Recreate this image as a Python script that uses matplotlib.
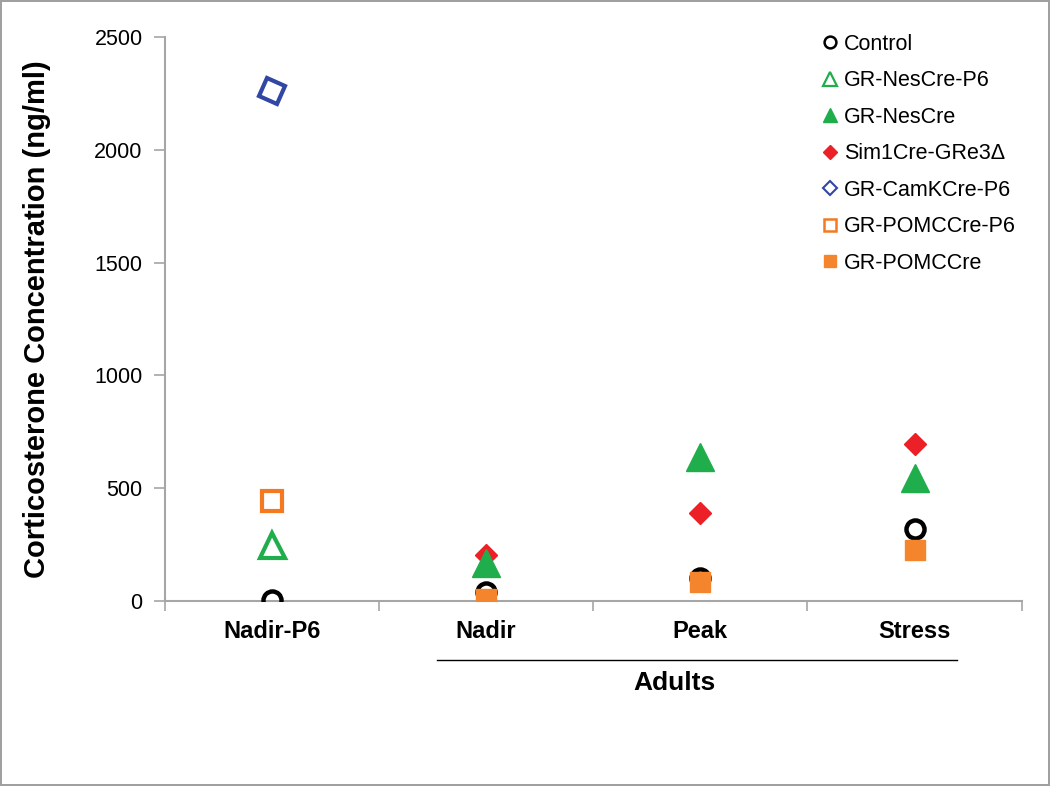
import numpy as np
import matplotlib.pyplot as plt
from matplotlib.lines import Line2D
from matplotlib.markers import MarkerStyle
from matplotlib.transforms import Affine2D, blended_transform_factory

plt.rcParams['font.family'] = ['Liberation Sans', 'DejaVu Sans']

# ============================================
# DATA
# ============================================

categories = ["Nadir-P6", "Nadir", "Peak", "Stress"]

control = [5, 40, 100, 320]
nescre_p6 = [250, None, None, None]
nescre = [None, 170, 640, 545]
sim1cre = [None, 205, 390, 695]
camkcre_p6 = [2260, None, None, None]
pomccre_p6 = [443, None, None, None]
pomccre = [None, 8, 85, 226]

series_labels = ["Control", "GR-NesCre-P6", "GR-NesCre", "Sim1Cre-GRe3\u0394",
                 "GR-CamKCre-P6", "GR-POMCCre-P6", "GR-POMCCre"]

# colours
GREEN = "#1fae4b"
RED = "#ec2027"
BLUE = "#3246a4"
ORANGE_OPEN = "#f47920"
ORANGE = "#f5852d"

# ============================================
# PLOT
# ============================================

fig = plt.figure(figsize=(10.5, 7.86), dpi=100, linewidth=1.5, edgecolor="#a0a0a0")
ax = fig.add_axes([0.157, 0.2354, 0.816, 0.7176])

x = np.arange(len(categories))


def draw(vals, **kw):
    xs = [xi for xi, v in zip(x, vals) if v is not None]
    ys = [v for v in vals if v is not None]
    ax.plot(xs, ys, linestyle="none", **kw)


rot_sq = MarkerStyle("s", transform=Affine2D().rotate_deg(-22))

draw(control, marker="o", ms=13, mfc="none", mec="black", mew=3.2, zorder=3)
draw(nescre_p6, marker="^", ms=18, mfc="none", mec=GREEN, mew=3, zorder=3)
draw(nescre, marker="^", ms=20, color=GREEN, zorder=4)
draw(sim1cre, marker="D", ms=11.5, color=RED, zorder=3)
draw(camkcre_p6, marker=rot_sq, ms=14, mfc="none", mec=BLUE, mew=3, zorder=3)
draw(pomccre_p6, marker="s", ms=14, mfc="none", mec=ORANGE_OPEN, mew=3, zorder=3)
draw(pomccre, marker="s", ms=15, color=ORANGE, zorder=5)

ax.set_xlim(-0.5, 3.5)
ax.set_ylim(0, 2500)
ax.set_yticks(np.arange(0, 2501, 500))
ax.tick_params(axis="y", labelsize=15.5, length=8, color="#a6a6a6", width=1.2, pad=8)

ax.set_xticks(x)
ax.set_xticklabels(categories, fontsize=17, fontweight="bold")
ax.tick_params(axis="x", which="major", length=0, pad=14)
ax.set_xticks(np.arange(-0.5, 3.6, 1), minor=True)
ax.tick_params(axis="x", which="minor", length=7, color="#a6a6a6", width=1.2)

for s in ["top", "right"]:
    ax.spines[s].set_visible(False)
for s in ["left", "bottom"]:
    ax.spines[s].set_color("#a6a6a6")
    ax.spines[s].set_linewidth(1.5)

ax.set_ylabel("Corticosterone Concentration (ng/ml)", fontsize=21, fontweight="bold", labelpad=31)

# Adults bracket under the adult groups
trans = blended_transform_factory(ax.transData, ax.transAxes)
ax.plot([0.77, 3.2], [-0.105, -0.105], color="black", lw=1, transform=trans, clip_on=False)
ax.text(1.877, -0.145, "Adults", transform=trans, ha="center", va="center",
        fontsize=19, fontweight="bold")

# legend with smaller markers
handles = [
    Line2D([], [], ls="none", marker="o", ms=8.5, mfc="none", mec="black", mew=1.8),
    Line2D([], [], ls="none", marker="^", ms=10, mfc="none", mec=GREEN, mew=1.6),
    Line2D([], [], ls="none", marker="^", ms=10, color=GREEN),
    Line2D([], [], ls="none", marker="D", ms=7.5, color=RED),
    Line2D([], [], ls="none", marker="D", ms=7.5, mfc="none", mec=BLUE, mew=1.5),
    Line2D([], [], ls="none", marker="s", ms=9, mfc="none", mec=ORANGE_OPEN, mew=1.8),
    Line2D([], [], ls="none", marker="s", ms=9, color=ORANGE),
]
ax.legend(handles, series_labels, loc="upper left", bbox_to_anchor=(0.746, 1.04),
          frameon=False, fontsize=15.5, handlelength=0.6, handletextpad=0.35,
          labelspacing=0.72, numpoints=1)

fig.savefig("out.png", dpi=100)
